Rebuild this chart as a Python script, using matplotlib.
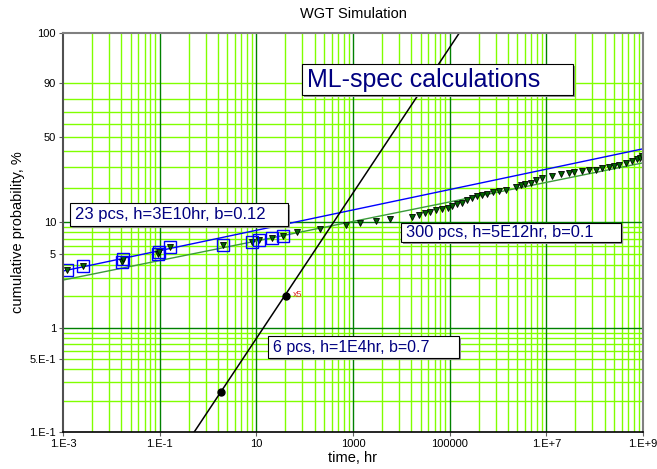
import numpy as np
import matplotlib
matplotlib.use("Agg")
import matplotlib.pyplot as plt
from matplotlib.patches import Rectangle
from matplotlib.ticker import NullLocator

plt.rcParams['font.family'] = ['Liberation Sans', 'DejaVu Sans']

# ---------------- data ----------------
tri_time = [1.19e-3, 2.54e-3, 1.63e-2, 1.77e-2, 9.35e-2, 9.8e-2, 0.166, 2.0, 8.1, 11.5, 20.6, 34.8,
            67.8, 207, 713, 1390, 2980, 5790, 1.70e4, 2.34e4, 3.11e4, 3.89e4, 5.19e4, 7.10e4, 9.02e4,
            1.14e5, 1.45e5, 1.84e5, 2.30e5, 2.92e5, 3.71e5, 4.70e5, 5.97e5, 7.94e5, 1.06e6, 1.48e6,
            2.34e6, 2.97e6, 3.65e6, 4.78e6, 6.07e6, 8.30e6, 1.34e7, 2.00e7, 2.96e7, 3.76e7, 5.58e7,
            7.67e7, 1.06e8, 1.45e8, 1.99e8, 2.52e8, 3.21e8, 4.41e8, 6.04e8, 7.55e8, 8.51e8, 9.57e8]
tri_pct = [3.57, 3.89, 4.27, 4.50, 5.02, 5.27, 5.83, 6.13, 6.58, 6.82, 7.16, 7.43,
           8.04, 8.62, 9.29, 9.72, 10.27, 10.58, 11.17, 11.58, 11.99, 12.32, 12.66, 13.03, 13.45,
           13.94, 14.52, 14.91, 15.60, 16.25, 16.92, 17.44, 17.79, 18.33, 18.71, 19.09,
           20.25, 21.28, 21.70, 22.13, 23.46, 24.23, 25.00, 26.07, 26.66, 27.07, 27.48,
           28.00, 28.36, 29.28, 29.83, 30.27, 31.11, 32.10, 33.03, 34.37, 35.28, 36.57]

sq_time = [1.19e-3, 2.54e-3, 1.63e-2, 1.77e-2, 9.35e-2, 9.8e-2, 0.166, 2.0, 8.1, 11.5, 20.6, 34.8]
sq_pct = [3.57, 3.89, 4.27, 4.50, 5.02, 5.27, 5.83, 6.13, 6.58, 6.82, 7.16, 7.43]

dot_time = [1.88, 41.7]
dot_pct = [0.24, 2.0]
dot_note = "x5"

# fitted Weibull lines (eta [hr], beta) as drawn
black_eta, black_beta = 1.0e4, 0.7
blue_eta, blue_beta = 6.4e11, 0.098
green_eta, green_beta = 2.3e13, 0.094

x_tick_vals = [1e-3, 1e-1, 1e1, 1e3, 1e5, 1e7, 1e9]
x_tick_labels = ["1.E-3", "1.E-1", "10", "1000", "100000", "1.E+7", "1.E+9"]
y_tick_vals = [0.1, 0.5, 1, 5, 10, 50, 90, 99.9]
y_tick_labels = ["1.E-1", "5.E-1", "1", "5", "10", "50", "90", "100"]

y_grid_light = [0.2, 0.3, 0.4, 0.5, 0.6, 0.7, 0.8, 0.9, 2, 3, 4, 5, 6, 7, 8, 9,
                20, 30, 40, 50, 60, 70, 80, 90]
y_grid_dark = [1, 10]
x_grid_bases = [1e-3, 1e-1, 1e1, 1e3, 1e5, 1e7]
x_grid_mult = [4, 9, 16, 25, 36, 49, 64, 81]
x_grid_dark = [1e-1, 1e1, 1e3, 1e5, 1e7]

title = "WGT Simulation"
xlabel = "time, hr"
ylabel = "cumulative probability, %"
box_main = "ML-spec calculations"
box_23 = "23 pcs, h=3E10hr, b=0.12"
box_300 = "300 pcs, h=5E12hr, b=0.1"
box_6 = "6 pcs, h=1E4hr, b=0.7"

# ---------------- figure ----------------
W, H = 657, 469
fig = plt.figure(figsize=(W / 100, H / 100), dpi=100)
L, R, T, B = 63, 643, 33, 432
ax = fig.add_axes([L / W, 1 - B / H, (R - L) / W, (B - T) / H])


def fwd(p):
    p = np.clip(np.asarray(p, dtype=float), 1e-9, 100 - 1e-9)
    return np.log(-np.log(1 - p / 100.0))


def inv(w):
    w = np.clip(np.asarray(w, dtype=float), -60, 3.5)
    return 100.0 * (1 - np.exp(-np.exp(w)))


ax.set_xscale('log')
ax.set_yscale('function', functions=(fwd, inv))
ax.set_xlim(1e-3, 1e9)
ax.set_ylim(0.1, 99.9)

light = '#80ff00'
dark = '#008000'
for b in x_grid_bases:
    for m in x_grid_mult:
        ax.axvline(b * m, color=light, lw=1.0, zorder=1)
for xv in x_grid_dark:
    ax.axvline(xv, color=dark, lw=1.0, zorder=1.5)
for yv in y_grid_light:
    ax.axhline(yv, color=light, lw=1.0, zorder=1)
for yv in y_grid_dark:
    ax.axhline(yv, color=dark, lw=1.0, zorder=1.5)

t = np.logspace(-3, 9, 600)


def weib(tt, eta, beta):
    return 100.0 * (1 - np.exp(-(tt / eta) ** beta))


ax.plot(t, weib(t, green_eta, green_beta), color='#3a9a3a', lw=1.0, zorder=3)
ax.plot(t, weib(t, blue_eta, blue_beta), color='#0000ff', lw=1.0, zorder=3)
tb = np.logspace(-1, 6, 400)
ax.plot(tb, weib(tb, black_eta, black_beta), color='black', lw=1.1, zorder=3)

ax.plot(tri_time, tri_pct, linestyle='none', marker='v', markersize=5,
        markerfacecolor='#006400', markeredgecolor='black', markeredgewidth=0.6, zorder=4)
ax.plot(sq_time, sq_pct, linestyle='none', marker='s', markersize=9,
        markerfacecolor='none', markeredgecolor='#0000ff', markeredgewidth=1.0, zorder=5)
ax.plot(dot_time, dot_pct, linestyle='none', marker='o', markersize=5,
        color='black', zorder=5)
ax.annotate(dot_note, (dot_time[1], dot_pct[1]), xytext=(5, 1), textcoords='offset points',
            fontsize=6.5, color='#e03030', va='center', ha='left', zorder=7,
            annotation_clip=False)

ax.set_xticks(x_tick_vals)
ax.set_xticklabels(x_tick_labels)
ax.set_yticks(y_tick_vals)
ax.set_yticklabels(y_tick_labels)
ax.xaxis.set_minor_locator(NullLocator())
ax.yaxis.set_minor_locator(NullLocator())
ax.tick_params(axis='both', labelsize=8, length=3, color='#606060', pad=2)

for s in ['top', 'right']:
    ax.spines[s].set_color('#808080')
    ax.spines[s].set_linewidth(1.5)
ax.spines['left'].set_color('#505050')
ax.spines['left'].set_linewidth(1.5)
ax.spines['bottom'].set_color('black')
ax.spines['bottom'].set_linewidth(1.2)
for s in ax.spines.values():
    s.set_zorder(8)

fig.text((L + R) / 2 / W, 1 - 14 / H, title, ha='center', va='center', fontsize=10.5)
fig.text((L + R) / 2 / W, 1 - 458 / H, xlabel, ha='center', va='center', fontsize=10.5)
fig.text(18 / W, 1 - 232 / H, ylabel, ha='center', va='center', rotation=90, fontsize=10.5)


def pbox(x0, y0, x1, y1, text, fs):
    # pixel box -> figure fraction
    sh = Rectangle(((x0 + 2) / W, 1 - (y1 + 2) / H), (x1 - x0) / W, (y1 - y0) / H,
                   transform=fig.transFigure, facecolor='#909090', edgecolor='none', zorder=9)
    rc = Rectangle((x0 / W, 1 - y1 / H), (x1 - x0) / W, (y1 - y0) / H,
                   transform=fig.transFigure, facecolor='white', edgecolor='black', lw=0.8, zorder=10)
    fig.add_artist(sh)
    fig.add_artist(rc)
    fig.text((x0 + 5) / W, 1 - (y0 + y1) / 2 / H, text, ha='left', va='center',
             fontsize=fs, color='#000080', zorder=11)


pbox(302, 64, 573, 95, box_main, 18)
pbox(70, 203, 288, 226, box_23, 12)
pbox(401, 223, 621, 242, box_300, 11.8)
pbox(268, 336, 459, 358, box_6, 11.5)

fig.savefig("out.png", dpi=100)
